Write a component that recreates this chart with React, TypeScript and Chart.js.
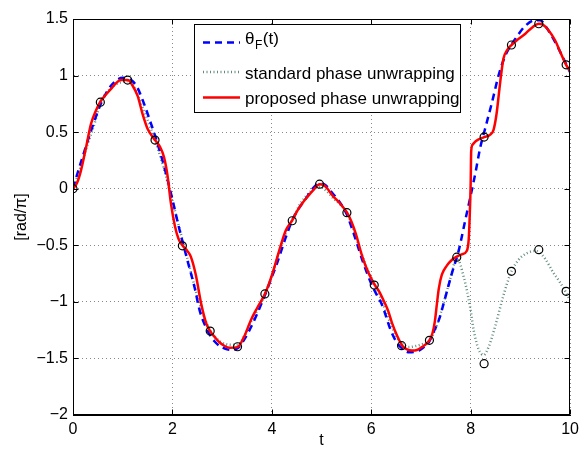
import React, { useEffect, useRef } from "react";
import { Chart, registerables } from "chart.js";

Chart.register(...registerables);

// ---- data ----
const xTicks = [0, 2, 4, 6, 8, 10];
const yTicks = [-2, -1.5, -1, -0.5, 0, 0.5, 1, 1.5];

// theta_F(t) (blue dashed)
const thetaT = [0, 0.1, 0.2, 0.3, 0.4, 0.55, 0.7, 0.85, 1.0, 1.1, 1.2, 1.3, 1.43, 1.55, 1.65, 1.8, 1.97, 2.13, 2.3, 2.45, 2.55, 2.65, 2.75, 2.85, 2.95, 3.1, 3.2, 3.31, 3.45, 3.55, 3.68, 3.87, 4.0, 4.08, 4.18, 4.28, 4.41, 4.55, 4.68, 4.82, 4.95, 5.05, 5.2, 5.35, 5.5, 5.65, 5.82, 6.0, 6.1, 6.22, 6.39, 6.5, 6.59, 6.76, 6.96, 7.06, 7.16, 7.26, 7.36, 7.49, 7.62, 7.76, 7.89, 8.0, 8.1, 8.19, 8.29, 8.43, 8.56, 8.7, 8.9, 9.1, 9.3, 9.4, 9.5, 9.7, 9.9, 10.0];
const thetaV = [0, 0.15, 0.29, 0.43, 0.56, 0.74, 0.87, 0.95, 0.98, 0.975, 0.95, 0.89, 0.75, 0.6, 0.47, 0.25, -0.04, -0.34, -0.63, -0.88, -1.08, -1.2, -1.29, -1.35, -1.39, -1.42, -1.425, -1.41, -1.33, -1.25, -1.13, -0.93, -0.78, -0.69, -0.56, -0.43, -0.28, -0.17, -0.09, 0.0, 0.045, 0.04, -0.03, -0.11, -0.22, -0.4, -0.63, -0.84, -0.93, -1.03, -1.25, -1.35, -1.4, -1.445, -1.43, -1.4, -1.355, -1.26, -1.16, -0.96, -0.75, -0.545, -0.28, -0.06, 0.15, 0.36, 0.53, 0.765, 1.0, 1.18, 1.325, 1.44, 1.49, 1.49, 1.44, 1.295, 1.12, 1.03];

// standard phase unwrapping (dotted)
const stdT = [0, 0.15, 0.3, 0.45, 0.55, 0.7, 0.85, 1.0, 1.1, 1.25, 1.4, 1.55, 1.65, 1.8, 1.95, 2.1, 2.2, 2.35, 2.5, 2.65, 2.76, 2.9, 3.05, 3.2, 3.31, 3.45, 3.6, 3.75, 3.87, 4.0, 4.15, 4.28, 4.41, 4.55, 4.7, 4.85, 4.96, 5.1, 5.25, 5.4, 5.51, 5.65, 5.8, 5.95, 6.07, 6.2, 6.35, 6.5, 6.62, 6.75, 6.9, 7.05, 7.17, 7.3, 7.45, 7.6, 7.72, 7.86, 7.99, 8.06, 8.16, 8.26, 8.36, 8.49, 8.63, 8.73, 8.82, 8.96, 9.13, 9.3, 9.37, 9.5, 9.66, 9.8, 9.92, 10.0];
const stdV = [0, 0.19, 0.4, 0.6, 0.76, 0.86, 0.92, 0.945, 0.95, 0.88, 0.72, 0.55, 0.43, 0.22, -0.02, -0.28, -0.45, -0.7, -0.95, -1.15, -1.25, -1.33, -1.37, -1.38, -1.38, -1.3, -1.16, -1.04, -0.93, -0.77, -0.56, -0.4, -0.28, -0.15, -0.06, 0.0, 0.02, -0.02, -0.09, -0.15, -0.21, -0.37, -0.57, -0.74, -0.85, -0.98, -1.15, -1.3, -1.37, -1.4, -1.39, -1.37, -1.34, -1.23, -1.02, -0.78, -0.61, -0.78, -1.05, -1.25, -1.42, -1.47, -1.4, -1.22, -0.99, -0.84, -0.73, -0.63, -0.57, -0.55, -0.56, -0.62, -0.74, -0.83, -0.92, -0.99];

// proposed phase unwrapping (red solid)
const propT = [0, 0.08, 0.16, 0.26, 0.36, 0.46, 0.55, 0.66, 0.76, 0.86, 0.96, 1.1, 1.2, 1.3, 1.4, 1.5, 1.65, 1.75, 1.83, 1.9, 1.97, 2.05, 2.12, 2.2, 2.3, 2.37, 2.47, 2.58, 2.68, 2.76, 2.85, 2.94, 3.05, 3.15, 3.31, 3.44, 3.58, 3.71, 3.86, 3.95, 4.04, 4.15, 4.28, 4.41, 4.52, 4.61, 4.72, 4.82, 4.96, 5.05, 5.12, 5.22, 5.35, 5.51, 5.6, 5.69, 5.82, 5.95, 6.07, 6.16, 6.25, 6.34, 6.42, 6.52, 6.62, 6.72, 6.82, 6.92, 7.02, 7.17, 7.23, 7.28, 7.32, 7.36, 7.42, 7.52, 7.62, 7.72, 7.82, 7.92, 7.96, 7.98, 8.0, 8.01, 8.04, 8.1, 8.27, 8.4, 8.46, 8.52, 8.57, 8.61, 8.66, 8.74, 8.82, 8.95, 9.1, 9.25, 9.37, 9.45, 9.55, 9.7, 9.8, 9.92, 10.0];
const propV = [0, 0.05, 0.16, 0.36, 0.57, 0.69, 0.77, 0.83, 0.88, 0.93, 0.96, 0.96, 0.91, 0.82, 0.66, 0.53, 0.43, 0.37, 0.28, 0.12, -0.13, -0.33, -0.44, -0.5, -0.55, -0.6, -0.76, -1.02, -1.19, -1.26, -1.31, -1.355, -1.39, -1.405, -1.4, -1.31, -1.16, -1.05, -0.93, -0.83, -0.71, -0.545, -0.37, -0.28, -0.19, -0.13, -0.07, -0.02, 0.04, 0.03, 0.0, -0.06, -0.12, -0.21, -0.29, -0.4, -0.6, -0.75, -0.85, -0.91, -0.99, -1.08, -1.19, -1.3, -1.385, -1.42, -1.43, -1.425, -1.4, -1.34, -1.28, -1.17, -1.02, -0.88, -0.76, -0.68, -0.63, -0.6, -0.58, -0.55, -0.45, -0.25, 0.05, 0.33, 0.39, 0.42, 0.456, 0.48, 0.52, 0.66, 0.85, 1.0, 1.15, 1.23, 1.27, 1.32, 1.37, 1.43, 1.458, 1.45, 1.41, 1.31, 1.21, 1.095, 1.04];

// sample points (circles)
const sampleT = [0, 0.55, 1.1, 1.65, 2.2, 2.76, 3.31, 3.86, 4.41, 4.96, 5.51, 6.06, 6.61, 7.17, 7.72, 8.27, 8.82, 9.37, 9.92];
const propSamples = [0, 0.765, 0.96, 0.43, -0.505, -1.258, -1.397, -0.93, -0.283, 0.04, -0.212, -0.852, -1.387, -1.34, -0.605, 0.456, 1.27, 1.458, 1.095];
const stdSampleT = [8.27, 8.82, 9.37, 9.92];
const stdSamples = [-1.546, -0.73, -0.539, -0.907];

const legendLabels = ["standard phase unwrapping", "proposed phase unwrapping"];

const pts = (xs: number[], ys: number[]) => xs.map((x, i) => ({ x, y: ys[i] }));

const FONT = "'Liberation Sans', Arial, Helvetica, sans-serif";
const BLUE = "rgb(0,0,255)";
const RED = "rgb(255,0,0)";
const GREENGRAY = "rgb(95,140,125)";
const BLUE_DASH = [7, 5];
const DOT_DASH = [1, 2.5];

const boxPlugin = {
  id: "matlabBox",
  afterDraw(chart: any) {
    const { ctx, chartArea: a, scales } = chart;
    ctx.save();
    ctx.strokeStyle = "#000";
    ctx.lineWidth = 1;
    ctx.setLineDash([]);
    const L = Math.round(a.left) + 0.5;
    const R = Math.round(a.right) - 0.5;
    const T = Math.round(a.top) + 0.5;
    const B = Math.round(a.bottom) - 0.5;
    ctx.strokeRect(L, T, R - L, B - T);
    ctx.beginPath();
    const tl = 5;
    for (const v of xTicks) {
      const px = Math.round(scales.x.getPixelForValue(v)) + 0.5;
      ctx.moveTo(px, B);
      ctx.lineTo(px, B - tl);
      ctx.moveTo(px, T);
      ctx.lineTo(px, T + tl);
    }
    for (const v of yTicks) {
      const py = Math.round(scales.y.getPixelForValue(v)) + 0.5;
      ctx.moveTo(L, py);
      ctx.lineTo(L + tl, py);
      ctx.moveTo(R, py);
      ctx.lineTo(R - tl, py);
    }
    ctx.stroke();
    ctx.restore();
  },
};

const legendPlugin = {
  id: "matlabLegend",
  afterDraw(chart: any) {
    const { ctx } = chart;
    ctx.save();
    const x0 = 194.5, y0 = 24.5, w = 266, h = 88;
    ctx.fillStyle = "#fff";
    ctx.fillRect(x0, y0, w, h);
    ctx.strokeStyle = "#000";
    ctx.lineWidth = 1;
    ctx.setLineDash([]);
    ctx.strokeRect(x0, y0, w, h);

    const lx1 = 203, lx2 = 240, tx = 245;
    const rows = [42.5, 72, 97.5];
    ctx.beginPath();
    ctx.strokeStyle = BLUE;
    ctx.lineWidth = 2.5;
    ctx.setLineDash(BLUE_DASH);
    ctx.moveTo(lx1, rows[0]);
    ctx.lineTo(lx2, rows[0]);
    ctx.stroke();
    ctx.beginPath();
    ctx.strokeStyle = GREENGRAY;
    ctx.lineWidth = 2.5;
    ctx.setLineDash(DOT_DASH);
    ctx.moveTo(lx1, rows[1]);
    ctx.lineTo(lx2, rows[1]);
    ctx.stroke();
    ctx.beginPath();
    ctx.strokeStyle = RED;
    ctx.lineWidth = 2.5;
    ctx.setLineDash([]);
    ctx.moveTo(lx1, rows[2]);
    ctx.lineTo(lx2, rows[2]);
    ctx.stroke();

    ctx.fillStyle = "#000";
    ctx.textBaseline = "alphabetic";
    ctx.textAlign = "left";
    ctx.font = `17px ${FONT}`;
    let x = tx;
    ctx.fillText("θ", x, 43.5);
    x += ctx.measureText("θ").width + 0.5;
    ctx.font = `12px ${FONT}`;
    ctx.fillText("F", x, 48.5);
    x += ctx.measureText("F").width + 0.5;
    ctx.font = `17px ${FONT}`;
    ctx.fillText("(t)", x, 43.5);
    ctx.fillText(legendLabels[0], tx, 78.5);
    ctx.fillText(legendLabels[1], tx, 104);
    ctx.restore();
  },
};

const fmt = (v: number) => String(v).replace("-", "\u2212");

export default function App() {
  const ref = useRef<HTMLCanvasElement>(null);
  useEffect(() => {
    const canvas = ref.current;
    if (!canvas) return;
    const chart = new Chart(canvas, {
      type: "line",
      data: {
        datasets: [
          {
            label: "samples",
            data: [...pts(sampleT, propSamples), ...pts(stdSampleT, stdSamples)],
            showLine: false,
            pointRadius: 4,
            pointBorderWidth: 1.2,
            pointBorderColor: "#000",
            pointBackgroundColor: "rgba(0,0,0,0)",
            borderColor: "#000",
          },
          {
            label: "proposed phase unwrapping",
            data: pts(propT, propV),
            borderColor: RED,
            borderWidth: 2.5,
            pointRadius: 0,
            cubicInterpolationMode: "monotone",
          },
          {
            label: "θF(t)",
            data: pts(thetaT, thetaV),
            borderColor: BLUE,
            borderWidth: 2.5,
            borderDash: BLUE_DASH,
            pointRadius: 0,
            cubicInterpolationMode: "monotone",
          },
          {
            label: "standard phase unwrapping",
            data: pts(stdT, stdV),
            borderColor: GREENGRAY,
            borderWidth: 2.5,
            borderDash: DOT_DASH,
            pointRadius: 0,
            cubicInterpolationMode: "monotone",
          },
        ],
      },
      options: {
        animation: false,
        responsive: false,
        devicePixelRatio: 1,
        layout: { padding: { top: 19, right: 12, left: 0, bottom: 0 } },
        plugins: {
          legend: { display: false },
          tooltip: { enabled: false },
        },
        scales: {
          x: {
            type: "linear",
            min: 0,
            max: 10,
            afterBuildTicks: (s: any) => {
              s.ticks = xTicks.map((v) => ({ value: v }));
            },
            afterFit: (s: any) => {
              s.height = 38;
            },
            ticks: {
              autoSkip: false,
              maxRotation: 0,
              padding: 5,
              color: "#000",
              font: { family: FONT, size: 16 },
              callback: (v: any) => fmt(Number(v)),
            },
            grid: { color: "#8a8a8a", lineWidth: 1, drawTicks: false },
            border: { display: true, color: "#000", width: 1, dash: [1, 3] },
            title: {
              display: true,
              text: "t",
              color: "#000",
              font: { family: FONT, size: 16 },
              padding: { top: 0, bottom: 3 },
            },
          },
          y: {
            type: "linear",
            min: -2,
            max: 1.5,
            afterBuildTicks: (s: any) => {
              s.ticks = yTicks.map((v) => ({ value: v }));
            },
            afterFit: (s: any) => {
              s.width = 73;
            },
            ticks: {
              autoSkip: false,
              padding: 5,
              color: "#000",
              font: { family: FONT, size: 16 },
              callback: (v: any) => fmt(Number(v)),
            },
            grid: { color: "#8a8a8a", lineWidth: 1, drawTicks: false },
            border: { display: true, color: "#000", width: 1, dash: [1, 3] },
            title: {
              display: true,
              text: "[rad/π]",
              color: "#000",
              font: { family: FONT, size: 16 },
              padding: { top: 12, bottom: 0 },
            },
          },
        },
      },
      plugins: [boxPlugin, legendPlugin],
    } as any);
    return () => chart.destroy();
  }, []);

  return (
    <div style={{ position: "fixed", left: 0, top: 0, width: 584, height: 453, background: "#fff" }}>
      <canvas ref={ref} width={584} height={453} style={{ display: "block", width: 584, height: 453 }} />
    </div>
  );
}
